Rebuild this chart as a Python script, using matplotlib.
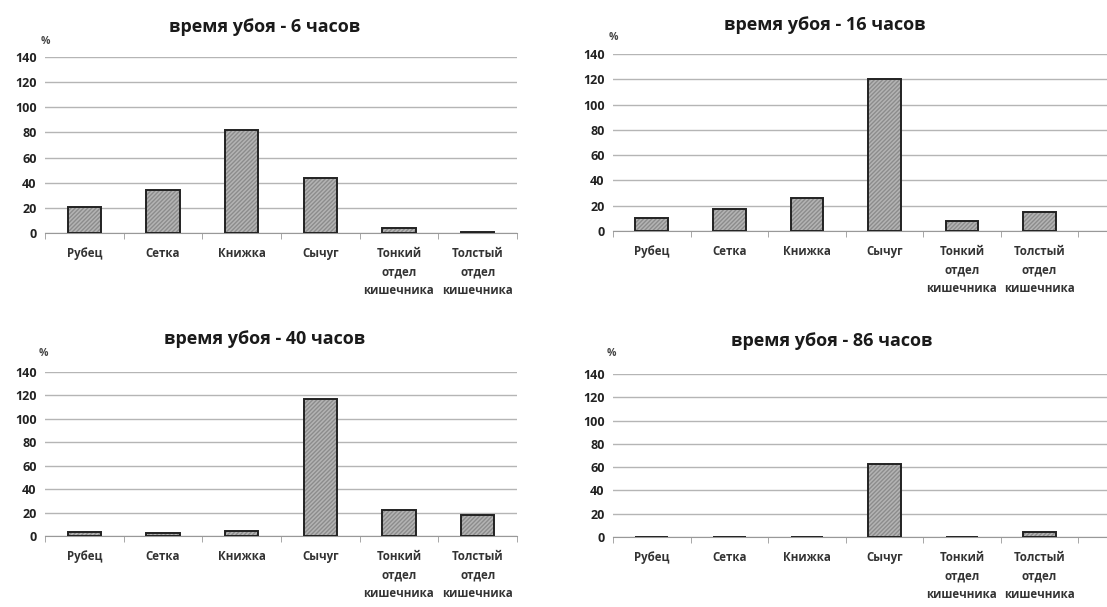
import matplotlib.pyplot as plt
import numpy as np

plt.rcParams['font.family'] = ['Open Sans', 'DejaVu Sans']

organs = ['Рубец', 'Сетка', 'Книжка', 'Сычуг',
          'Тонкий\nотдел\nкишечника', 'Толстый\nотдел\nкишечника']
titles = ['время убоя - 6 часов', 'время убоя - 16 часов',
          'время убоя - 40 часов', 'время убоя - 86 часов']

h6 = [21, 34.5, 82, 44, 3.7, 0.5]
h16 = [10, 17.6, 26, 120, 7.6, 15.3]
h40 = [3, 2.3, 4.6, 117, 22, 18]
h86 = [0.4, 0.4, 0.4, 63, 0.4, 4.3]
series = [h6, h16, h40, h86]

W, H = 1107, 607
fig = plt.figure(figsize=(W / 100, H / 100), dpi=100)

# pixel boxes: left, top, right, bottom ; extra = overhang of grid past last category
boxes = [(45, 57, 517, 233, 0.0), (613, 54, 1107, 231, 0.37),
         (45, 372, 517, 536, 0.0), (613, 374, 1107, 537, 0.37)]
title_pos = [(265, 27), (825, 25), (265, 339), (832, 341)]
pct_pos = [(45, 42), (613, 38), (43, 354), (611, 353)]

x = np.arange(len(organs))
for vals, ttl, (l, t, r, b, extra), (tx, ty), (px, py) in zip(series, titles, boxes, title_pos, pct_pos):
    ax = fig.add_axes([l / W, 1 - b / H, (r - l) / W, (b - t) / H])
    ax.bar(x, vals, width=0.42, color='#b4b4b4', hatch='////////', edgecolor='#8c8c8c', linewidth=0, zorder=3)
    ax.bar(x, vals, width=0.42, fill=False, edgecolor='#222222', linewidth=1.4, zorder=4)
    ax.set_ylim(0, 140)
    ax.set_xlim(-0.5, 5.5 + extra)
    ax.set_yticks(range(0, 141, 20))
    ax.yaxis.grid(True, color='#b5b5b5', linewidth=1)
    ax.set_axisbelow(True)
    for s in ['left', 'right', 'top']:
        ax.spines[s].set_visible(False)
    ax.spines['bottom'].set_color('#999999')
    ax.set_xticks(x)
    ax.set_xticklabels(organs, fontsize=8.3, fontweight='bold', color='#333333', linespacing=1.55, va='top')
    ax.tick_params(axis='x', length=0, pad=10)
    ax.set_xticks(np.arange(-0.5, 6, 1), minor=True)
    ax.tick_params(axis='x', which='minor', length=4, color='#999999')
    ax.tick_params(axis='y', length=0, labelsize=9, labelcolor='#222222', pad=6)
    for lab in ax.get_yticklabels():
        lab.set_fontweight('bold')
    fig.text(tx / W, 1 - ty / H, ttl, ha='center', va='center', fontsize=13, fontweight='bold', color='#1a1a1a')
    fig.text(px / W, 1 - py / H, '%', ha='center', va='center', fontsize=7.5, fontweight='bold', color='#444444')

fig.savefig('out.png', dpi=100, facecolor='white')
